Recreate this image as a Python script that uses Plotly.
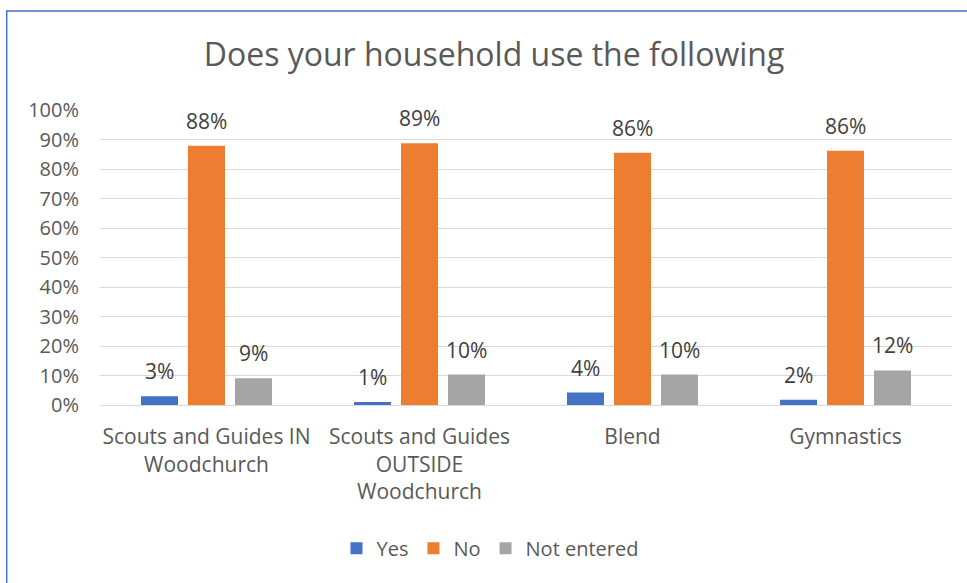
import plotly.graph_objects as go

categories = ["Scouts and Guides IN<br>Woodchurch", "Scouts and Guides<br>OUTSIDE<br>Woodchurch", "Blend", "Gymnastics"]
yes_vals = [0.030, 0.010, 0.042, 0.018]
no_vals = [0.879, 0.887, 0.855, 0.862]
not_entered_vals = [0.091, 0.103, 0.103, 0.117]
series_names = ["Yes", "No", "Not entered"]
series_colors = ["#4472C4", "#ED7D31", "#A5A5A5"]

FONT = "Open Sans"
W, H = 967, 583
L, R, T, B = 100, 15, 109.5, 178.3
pw, ph = W - L - R, H - T - B
BARGAP, GROUPGAP = 0.338, 0.213

fig = go.Figure()
all_vals = [yes_vals, no_vals, not_entered_vals]
for name, vals, col in zip(series_names, all_vals, series_colors):
    fig.add_trace(go.Bar(
        x=categories, y=vals, name=name, marker=dict(color=col, line=dict(width=0)),
    ))

# data labels above each bar
cat_px = pw / len(categories)
slot_px = cat_px * (1 - BARGAP) / len(series_names)
annotations = []
for i, vals in enumerate(all_vals):
    for c, v in zip(categories, vals):
        annotations.append(dict(
            x=c, y=v, xref="x", yref="y", text=f"{v:.0%}", showarrow=False,
            xshift=(i - 1) * slot_px, yshift=25, yanchor="middle", xanchor="center",
            font=dict(family=FONT, size=21, color="#404040")))

def px2x(px):
    return (px - L) / pw

def py2y(py):
    return (H - B - py) / ph

fig.update_layout(
    width=W, height=H,
    margin=dict(l=L, r=R, t=T, b=B, pad=0),
    paper_bgcolor="white", plot_bgcolor="white",
    barmode="group", bargap=BARGAP, bargroupgap=GROUPGAP,
    title=dict(text="Does your household use the following", x=494 / W, xanchor="center",
               y=1 - 55 / H, yanchor="middle",
               font=dict(family=FONT, size=32, color="#595959")),
    font=dict(family=FONT, color="#595959"),
    yaxis=dict(range=[0, 1], dtick=0.1, tickformat=".0%", showgrid=True, gridcolor="#D9D9D9",
               gridwidth=1, zeroline=False, showline=False, ticks="",
               tickfont=dict(family=FONT, size=20, color="#595959"), ticklabelstandoff=20),
    xaxis=dict(showline=True, linecolor="#D9D9D9", linewidth=1, ticks="", showgrid=False,
               tickfont=dict(family=FONT, size=21, color="#595959"), ticklabelstandoff=13),
    legend=dict(orientation="h", x=px2x(490), xanchor="center", y=py2y(548), yanchor="middle",
                font=dict(family=FONT, size=20, color="#595959"), itemwidth=30, traceorder="normal"),
    showlegend=True,
    annotations=annotations,
    shapes=[dict(type="rect", xref="paper", yref="paper",
                 x0=px2x(6.7), x1=px2x(1000), y0=py2y(620), y1=py2y(10.5),
                 line=dict(color="#4472C4", width=1.5), fillcolor="rgba(0,0,0,0)", layer="above")],
)

fig.write_html("out.html", config={"displayModeBar": False},
               post_script="document.body.style.margin='0';document.body.style.padding='0';")
